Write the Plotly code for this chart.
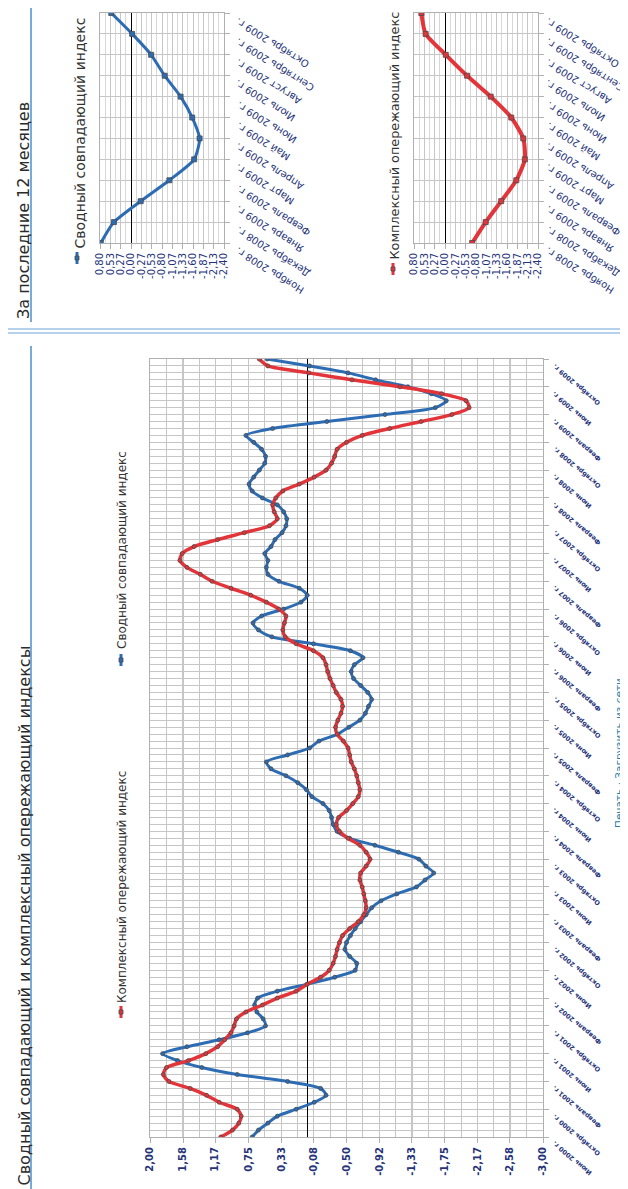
import plotly.graph_objects as go
import pandas as pd

W, H = 628, 1189

# ---------------- data ----------------
months_ru = ["Январь", "Февраль", "Март", "Апрель", "Май", "Июнь", "Июль",
             "Август", "Сентябрь", "Октябрь", "Ноябрь", "Декабрь"]
dates = pd.date_range("2000-06-01", "2009-10-01", freq="MS")
month_labels = [f"{months_ru[d.month - 1]} {d.year} г." for d in dates]

# Комплексный опережающий индекс (red)
leading = [1.10, 0.95, 0.87, 0.84, 0.89, 1.12, 1.28, 1.49, 1.76, 1.83,
           1.79, 1.51, 1.29, 1.14, 1.05, 0.97, 0.93, 0.90, 0.78, 0.57,
           0.38, 0.14, 0.00, -0.17, -0.28, -0.33, -0.36, -0.38, -0.41, -0.45,
           -0.54, -0.65, -0.72, -0.75, -0.74, -0.72, -0.70, -0.67, -0.68, -0.75,
           -0.80, -0.75, -0.67, -0.52, -0.41, -0.37, -0.40, -0.50, -0.58, -0.65,
           -0.67, -0.65, -0.63, -0.60, -0.56, -0.54, -0.52, -0.46, -0.38, -0.36,
           -0.39, -0.43, -0.45, -0.43, -0.37, -0.33, -0.29, -0.26, -0.24, -0.20,
           -0.08, 0.14, 0.28, 0.31, 0.29, 0.27, 0.36, 0.52, 0.72, 0.97,
           1.21, 1.36, 1.53, 1.62, 1.59, 1.44, 1.14, 0.80, 0.48, 0.38,
           0.42, 0.44, 0.40, 0.31, 0.10, -0.09, -0.24, -0.31, -0.35, -0.38,
           -0.50, -0.70, -1.05, -1.45, -1.84, -2.06, -2.02, -1.71, -1.18, -0.57,
           -0.02, 0.50, 0.61]

# Сводный совпадающий индекс (blue)
coincident = [0.70, 0.62, 0.50, 0.38, 0.14, -0.09, -0.24, -0.17, 0.25, 0.89,
              1.34, 1.65, 1.84, 1.53, 1.12, 0.76, 0.53, 0.56, 0.64, 0.67,
              0.63, 0.38, 0.00, -0.35, -0.61, -0.63, -0.54, -0.48, -0.50, -0.55,
              -0.61, -0.68, -0.75, -0.82, -0.94, -1.14, -1.39, -1.50, -1.61, -1.51,
              -1.42, -1.16, -0.86, -0.54, -0.38, -0.33, -0.31, -0.28, -0.20, -0.06,
              0.01, 0.12, 0.27, 0.46, 0.52, 0.25, -0.03, -0.15, -0.39, -0.53,
              -0.67, -0.74, -0.78, -0.82, -0.77, -0.68, -0.59, -0.56, -0.60, -0.71,
              -0.55, -0.08, 0.45, 0.62, 0.69, 0.58, 0.30, 0.08, 0.00, 0.10,
              0.36, 0.50, 0.52, 0.50, 0.54, 0.46, 0.41, 0.32, 0.27, 0.26,
              0.30, 0.38, 0.57, 0.70, 0.74, 0.68, 0.61, 0.54, 0.53, 0.58,
              0.68, 0.78, 0.44, -0.25, -0.99, -1.63, -1.77, -1.58, -1.28, -0.87,
              -0.52, -0.03, 0.51]

main_value_ticks = ["2,00", "1,58", "1,17", "0,75", "0,33", "-0,08", "-0,50",
                    "-0,92", "-1,33", "-1,75", "-2,17", "-2,58", "-3,00"]
small_value_ticks = ["0,80", "0,53", "0,27", "0,00", "-0,27", "-0,53", "-0,80",
                     "-1,07", "-1,33", "-1,60", "-1,87", "-2,13", "-2,40"]

name_lead = "Комплексный опережающий индекс"
name_coin = "Сводный совпадающий индекс"
title_main = "Сводный совпадающий и комплексный опережающий индексы"
title_small = "За последние 12 месяцев"
link_text = "Печать · Загрузить из сети"

RED = "#e3343a"
BLUE = "#2c6cb4"
NAVY = "#26337a"
GRID = "#c6c6c6"

idx = list(range(len(dates)))
last12 = idx[-12:]
small_idx = list(range(12))


def num(s):
    return float(s.replace(",", "."))


def px_x(p):
    return p / W


def px_y(p):
    return 1 - p / H


fig = go.Figure()

marker_line = dict(width=0.8, color="#4a4a4a")

# main chart
fig.add_trace(go.Scatter(x=coincident, y=idx, mode="lines+markers", name=name_coin,
                         line=dict(color=BLUE, width=3, shape="spline", smoothing=0.7),
                         marker=dict(size=4, color=BLUE, line=marker_line),
                         xaxis="x", yaxis="y", showlegend=False))
fig.add_trace(go.Scatter(x=leading, y=idx, mode="lines+markers", name=name_lead,
                         line=dict(color=RED, width=3.5, shape="spline", smoothing=0.7),
                         marker=dict(size=4, color=RED, line=marker_line),
                         xaxis="x", yaxis="y", showlegend=False))

# small charts (last 12 months)
fig.add_trace(go.Scatter(x=coincident[-12:], y=small_idx, mode="lines+markers",
                         line=dict(color=BLUE, width=3, shape="spline", smoothing=0.6),
                         marker=dict(size=5, symbol="square", color=BLUE, line=marker_line),
                         xaxis="x2", yaxis="y2", showlegend=False))
fig.add_trace(go.Scatter(x=leading[-12:], y=small_idx, mode="lines+markers",
                         line=dict(color=RED, width=4, shape="spline", smoothing=0.6),
                         marker=dict(size=5, symbol="square", color=RED, line=marker_line),
                         xaxis="x3", yaxis="y3", showlegend=False))

common_x = dict(showgrid=True, gridcolor=GRID, gridwidth=1, automargin=False,
                zeroline=True, zerolinecolor="#000000", zerolinewidth=1,
                showline=True, linecolor="#b0b0b0", mirror=True,
                ticks="outside", ticklen=5, tickcolor="#b0b0b0",
                tickangle=-90, side="bottom", fixedrange=True)
common_y = dict(showgrid=True, gridcolor=GRID, gridwidth=1, zeroline=False, automargin=False,
                showline=True, linecolor="#b0b0b0", mirror=True,
                ticks="outside", ticklen=5, tickcolor="#b0b0b0",
                side="right", fixedrange=True, showticklabels=False)

fig.update_layout(
    width=W, height=H,
    margin=dict(l=0, r=0, t=0, b=0, autoexpand=False),
    paper_bgcolor="white", plot_bgcolor="white",
    font=dict(family="DejaVu Sans", color=NAVY),
    xaxis=dict(common_x, domain=[px_x(142), px_x(535)], range=[2, -3], anchor="y",
               tickmode="array", tickvals=[num(s) for s in main_value_ticks],
               ticktext=main_value_ticks,
               tickfont=dict(size=10, color=NAVY, family="DejaVu Sans", weight="bold"),
               minor=dict(tick0=2, dtick=5 / 24, showgrid=True, gridcolor=GRID)),
    yaxis=dict(common_y, domain=[px_y(1129), px_y(351)], range=[0, len(idx) - 1],
               anchor="x", tickmode="array", tickvals=idx[::4],
               minor=dict(tick0=0, dtick=1, showgrid=True, gridcolor=GRID)),
    xaxis2=dict(common_x, domain=[px_x(92), px_x(216)], range=[0.8, -2.4], anchor="y2",
                tickmode="array", tickvals=[num(s) for s in small_value_ticks],
                ticktext=small_value_ticks,
                tickfont=dict(size=10, color=NAVY, family="DejaVu Sans"),
                minor=dict(tick0=0.8, dtick=0.8 / 6, showgrid=True, gridcolor="#d8d8d8")),
    yaxis2=dict(common_y, domain=[px_y(235), px_y(5)], range=[0, 11], anchor="x2",
                tickmode="array", tickvals=small_idx),
    xaxis3=dict(common_x, domain=[px_x(406), px_x(530)], range=[0.8, -2.4], anchor="y3",
                tickmode="array", tickvals=[num(s) for s in small_value_ticks],
                ticktext=small_value_ticks,
                tickfont=dict(size=10, color=NAVY, family="DejaVu Sans"),
                minor=dict(tick0=0.8, dtick=0.8 / 6, showgrid=True, gridcolor="#d8d8d8")),
    yaxis3=dict(common_y, domain=[px_y(235), px_y(5)], range=[0, 11], anchor="x3",
                tickmode="array", tickvals=small_idx),
)

ann = []
# slanted month labels (upside-down, hanging off the right-hand axis)
for i in idx[::4]:
    ann.append(dict(x=px_x(540), y=i, xref="paper", yref="y", text=month_labels[i],
                    textangle=-140, xanchor="left", yanchor="top", showarrow=False,
                    font=dict(size=6.5, color=NAVY, family="DejaVu Sans", weight="bold")))
for (xpx, yref) in [(223, "y2"), (533, "y3")]:
    for k, i in enumerate(last12):
        ann.append(dict(x=px_x(xpx), y=small_idx[k], xref="paper", yref=yref,
                        text=month_labels[i], textangle=-148, xanchor="left",
                        yanchor="top", showarrow=False,
                        font=dict(size=10, color=NAVY, family="DejaVu Sans")))
# main title
ann.append(dict(x=px_x(4), y=px_y(1180), xref="paper", yref="paper", text=title_main,
                textangle=-90, xanchor="left", yanchor="bottom", showarrow=False,
                font=dict(size=16, color="#2a2a2a", family="DejaVu Sans")))
# small title
ann.append(dict(x=px_x(4), y=px_y(313), xref="paper", yref="paper", text=title_small,
                textangle=-90, xanchor="left", yanchor="bottom", showarrow=False,
                font=dict(size=16, color="#2a2a2a", family="DejaVu Sans")))
# main legend
ann.append(dict(x=px_x(105), y=px_y(997), xref="paper", yref="paper", text=name_lead,
                textangle=-90, xanchor="left", yanchor="bottom", showarrow=False,
                font=dict(size=12, color="#333333", family="DejaVu Sans")))
ann.append(dict(x=px_x(105), y=px_y(643), xref="paper", yref="paper", text=name_coin,
                textangle=-90, xanchor="left", yanchor="bottom", showarrow=False,
                font=dict(size=12, color="#333333", family="DejaVu Sans")))
# small legends
ann.append(dict(x=px_x(61), y=px_y(243), xref="paper", yref="paper", text=name_coin,
                textangle=-90, xanchor="left", yanchor="bottom", showarrow=False,
                font=dict(size=14, color="#333333", family="DejaVu Sans")))
ann.append(dict(x=px_x(377), y=px_y(254), xref="paper", yref="paper", text=name_lead,
                textangle=-90, xanchor="left", yanchor="bottom", showarrow=False,
                font=dict(size=12.8, color="#333333", family="DejaVu Sans")))
# link
ann.append(dict(x=px_x(603), y=px_y(822), xref="paper", yref="paper",
                text="<u>" + link_text + "</u>",
                textangle=-90, xanchor="left", yanchor="bottom", showarrow=False,
                font=dict(size=10.5, color="#2a7fa8", family="DejaVu Sans")))
fig.update_layout(annotations=ann)

shapes = []
# blue rules
shapes.append(dict(type="line", xref="paper", yref="paper", x0=px_x(23), x1=px_x(23),
                   y0=px_y(338), y1=px_y(1189), line=dict(color="#7aaad6", width=2)))
shapes.append(dict(type="line", xref="paper", yref="paper", x0=px_x(23), x1=px_x(23),
                   y0=px_y(0), y1=px_y(314), line=dict(color="#7aaad6", width=2)))
shapes.append(dict(type="line", xref="paper", yref="paper", x0=0, x1=1,
                   y0=px_y(321), y1=px_y(321), line=dict(color="#9cc2e4", width=1.5)))
shapes.append(dict(type="line", xref="paper", yref="paper", x0=0, x1=1,
                   y0=px_y(325), y1=px_y(325), line=dict(color="#9cc2e4", width=1.5)))
# legend samples
for (cx, cy, col) in [(113, 1004, RED), (113, 652, BLUE), (69, 250, BLUE), (385, 261, RED)]:
    shapes.append(dict(type="line", xref="paper", yref="paper", x0=px_x(cx), x1=px_x(cx),
                       y0=px_y(cy + 6), y1=px_y(cy - 6), line=dict(color=col, width=3)))
    shapes.append(dict(type="rect", xref="paper", yref="paper",
                       x0=px_x(cx - 2), x1=px_x(cx + 2), y0=px_y(cy + 2), y1=px_y(cy - 2),
                       line=dict(color="#4a4a4a", width=0.8), fillcolor=col))
fig.update_layout(shapes=shapes)

fig.write_html("out.html")
